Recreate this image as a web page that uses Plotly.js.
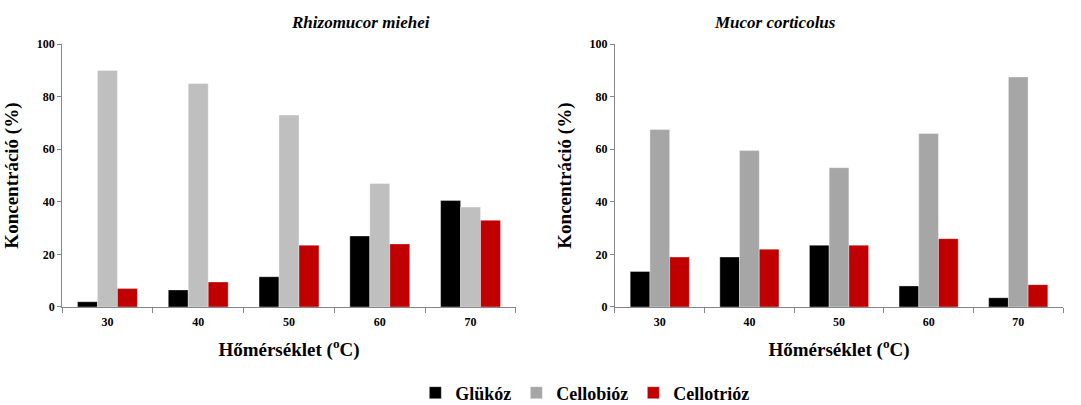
<!DOCTYPE html>
<html><head><meta charset="utf-8">
<script src="https://cdn.plot.ly/plotly-3.0.1.min.js"></script>
<style>html,body{margin:0;padding:0;background:#fff}#chart{width:1081px;height:405px}</style>
</head><body><div id="chart"></div>
<script>
const temps = ['30','40','50','60','70'];
const seriesNames = ['Glükóz','Cellobióz','Cellotrióz'];
// Rhizomucor miehei
const rmGlukoz = [2, 6.5, 11.5, 27, 40.5];
const rmCellobioz = [90, 85, 73, 47, 38];
const rmCellotrioz = [7, 9.5, 23.5, 24, 33];
// Mucor corticolus
const mcGlukoz = [13.5, 19, 23.5, 8, 3.5];
const mcCellobioz = [67.5, 59.5, 53, 66, 87.5];
const mcCellotrioz = [19, 22, 23.5, 26, 8.5];

const FONT = 'Liberation Serif';
const colBlack = '#000000', colGrayL = '#BFBFBF', colGrayD = '#A6A6A6', colRed = '#C00000';

function bar(y, name, color, xa, ya, show) {
  return {type:'bar', x:temps, y:y, name:name, xaxis:xa, yaxis:ya, showlegend:show,
    marker:{color:color, line:{width:0.6, color:'rgba(255,255,255,0.6)'}}, hoverinfo:'y'};
}
const data = [
  bar(rmGlukoz, seriesNames[0], colBlack, 'x', 'y', false),
  bar(rmCellobioz, seriesNames[1], colGrayL, 'x', 'y', false),
  bar(rmCellotrioz, seriesNames[2], colRed, 'x', 'y', false),
  bar(mcGlukoz, seriesNames[0], colBlack, 'x2', 'y2', true),
  bar(mcCellobioz, seriesNames[1], colGrayD, 'x2', 'y2', true),
  bar(mcCellotrioz, seriesNames[2], colRed, 'x2', 'y2', true)
];

const xax = (dom, anchor) => ({domain:dom, anchor:anchor, type:'category', tickson:'boundaries',
  ticks:'outside', ticklen:5, tickcolor:'#868686', showline:true, linecolor:'#868686', linewidth:1,
  showgrid:false, zeroline:false, ticklabelstandoff:4, tickfont:{family:FONT, size:12, color:'#000', weight:'bold'},
  title:{text:'<b>Hőmérséklet (<sup style="font-size:80%">o</sup>C)</b>', font:{family:FONT, size:19, color:'#000'}, standoff:14}});
const yax = (anchor) => ({domain:[0.242, 0.891], anchor:anchor, range:[0,100], dtick:20,
  ticks:'outside', ticklen:4, tickcolor:'#868686', showline:true, linecolor:'#868686', linewidth:1,
  showgrid:false, zeroline:false, tickfont:{family:FONT, size:12, color:'#000', weight:'bold'},
  title:{text:'<b>Koncentráció (%)</b>', font:{family:FONT, size:19, color:'#000'}, standoff:12}});

const layout = {
  width:1081, height:405, margin:{l:0, r:0, t:0, b:0, autoexpand:false},
  paper_bgcolor:'#fff', plot_bgcolor:'#fff',
  font:{family:FONT},
  barmode:'group', bargap:0.34, bargroupgap:0,
  xaxis: xax([0.0574, 0.4773], 'y'),
  yaxis: yax('x'),
  xaxis2: xax([0.5689, 0.9834], 'y2'),
  yaxis2: yax('x2'),
  showlegend:true,
  legend:{orientation:'h', x:0.541, xanchor:'center', y:1-393/405, yanchor:'middle',
    font:{family:FONT, size:18, color:'#000', weight:'bold'}, itemwidth:30, traceorder:'normal'},
  annotations:[
    {text:'<b><i>Rhizomucor miehei</i></b>', xref:'paper', yref:'paper', x:0.267, y:1-22/405, yanchor:'middle', showarrow:false, font:{family:FONT, size:17, color:'#000'}},
    {text:'<b><i>Mucor corticolus</i></b>', xref:'paper', yref:'paper', x:0.7755, y:1-22/405, yanchor:'middle', showarrow:false, font:{family:FONT, size:17, color:'#000'}}
  ]
};
Plotly.newPlot('chart', data, layout, {displayModeBar:false, staticPlot:true});
</script></body></html>
